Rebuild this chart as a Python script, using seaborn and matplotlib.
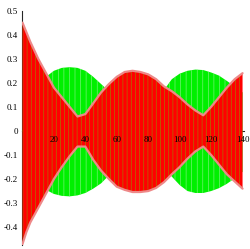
import numpy as np
import pandas as pd
import seaborn as sns
import matplotlib.pyplot as plt
from matplotlib.ticker import MultipleLocator, FormatStrFormatter

# envolventes (t, amplitud superior / inferior)
t = [0, 2.5, 5, 10, 15, 20, 25, 30, 35, 40, 45, 50, 55, 60, 65, 70, 75,
     80, 85, 90, 95, 100, 105, 110, 115, 120, 125, 130, 135, 140]
rojo_sup = [0.45, 0.41, 0.37, 0.30, 0.24, 0.18, 0.14, 0.10, 0.06, 0.07,
            0.115, 0.16, 0.195, 0.225, 0.245, 0.25, 0.245, 0.235, 0.215,
            0.185, 0.165, 0.14, 0.11, 0.085, 0.065, 0.10, 0.14, 0.18,
            0.215, 0.24]
rojo_inf = [-0.47, -0.42, -0.38, -0.32, -0.26, -0.20, -0.15, -0.105,
            -0.065, -0.065, -0.12, -0.165, -0.20, -0.232, -0.245, -0.254,
            -0.254, -0.25, -0.237, -0.213, -0.18, -0.15, -0.115, -0.085,
            -0.065, -0.10, -0.14, -0.18, -0.21, -0.24]
verde_sup = [0.0, 0.04, 0.08, 0.16, 0.225, 0.25, 0.262, 0.265, 0.262,
             0.25, 0.225, 0.195, 0.165, 0.13, 0.09, 0.06, 0.05, 0.07,
             0.11, 0.17, 0.215, 0.238, 0.25, 0.255, 0.253, 0.243, 0.23,
             0.208, 0.185, 0.16]
verde_inf = [0.0, -0.045, -0.09, -0.18, -0.245, -0.262, -0.27, -0.272,
             -0.268, -0.258, -0.24, -0.218, -0.185, -0.15, -0.11, -0.07,
             -0.05, -0.06, -0.10, -0.15, -0.19, -0.225, -0.25, -0.258,
             -0.258, -0.25, -0.238, -0.22, -0.197, -0.17]

sns.set_style('white')
plt.rcParams['font.family'] = ['Liberation Serif', 'DejaVu Serif']
plt.rcParams['axes.unicode_minus'] = False
plt.rcParams['hatch.linewidth'] = 0.45

fig = plt.figure(figsize=(2.51, 2.49), dpi=100)
ax = fig.add_axes([0.0896, 0.0153, 0.883, 0.942])

# verde primero, rojo encima
ax.fill_between(t, verde_inf, verde_sup, facecolor='#00f000',
                edgecolor='#80f080', hatch='|||', linewidth=0, zorder=3)
ax.fill_between(t, rojo_inf, rojo_sup, facecolor='#ff0000',
                edgecolor='#a08000', hatch='||||', linewidth=0, zorder=3)

df = pd.DataFrame({'t': t * 2, 'y': rojo_sup + rojo_inf,
                   'borde': ['sup'] * len(t) + ['inf'] * len(t)})
sns.lineplot(data=df, x='t', y='y', units='borde', estimator=None,
             color='#ee8888', linewidth=1.6, zorder=3.5, ax=ax)

ax.set_xlim(0, 141)
ax.set_ylim(-0.475, 0.5)
ax.spines['left'].set_position(('data', 0))
ax.spines['bottom'].set_position(('data', 0))
ax.spines['top'].set_visible(False)
ax.spines['right'].set_visible(False)
ax.spines['left'].set_linewidth(0.8)
ax.spines['bottom'].set_linewidth(0.8)
ax.xaxis.set_zorder(5)
ax.yaxis.set_zorder(5)

ax.set_xticks([20, 40, 60, 80, 100, 120, 140])
ax.xaxis.set_minor_locator(MultipleLocator(10))
ax.set_yticks([-0.4, -0.3, -0.2, -0.1, 0, 0.1, 0.2, 0.3, 0.4, 0.5])
ax.yaxis.set_major_formatter(FormatStrFormatter('%g'))
ax.tick_params(axis='both', which='both', direction='out', length=2.5,
               width=0.7, labelsize=6.5, pad=1, colors='black')
ax.tick_params(axis='both', which='minor', length=1.5)
ax.set_xlabel('')
ax.set_ylabel('')
ax.grid(False)

plt.savefig('out.png', dpi=100)
